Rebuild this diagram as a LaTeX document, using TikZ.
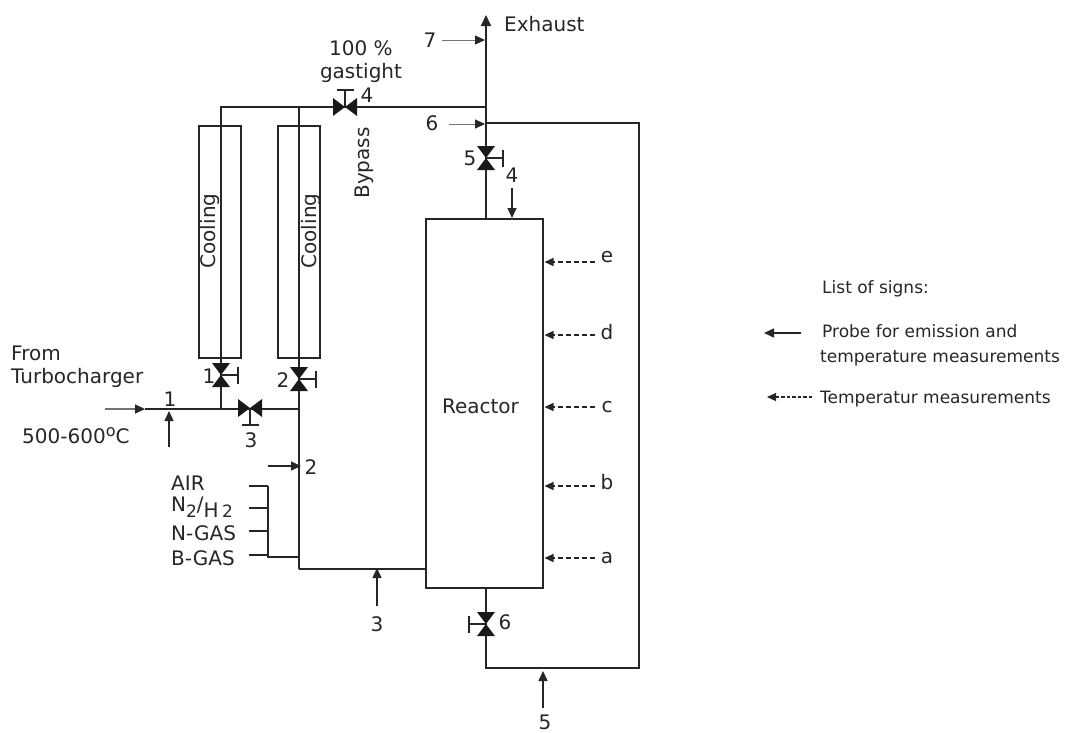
\documentclass[tikz,border=0pt]{standalone}
\usepackage{fontspec}
\setmainfont{DejaVu Sans}
\usetikzlibrary{arrows.meta,positioning,calc}

\begin{document}
\begin{tikzpicture}[
  x=1pt,y=-1pt, >={Triangle[length=10pt,width=9pt]}, font=\fontsize{20}{22}\selectfont,
  txt/.style={inner sep=0pt,text=black!85},
  note/.style={txt,font=\fontsize{17}{19}\selectfont,anchor=west},
  pipe/.style={line width=1.6pt,black!85},
  box/.style={draw=black!85,line width=1.6pt},
  probe/.style={->,line width=1.4pt,black!85},
  thinprobe/.style={-{Triangle[length=10pt,width=9pt,color=black!85]},line width=1pt,black!55},
  tprobe/.style={-{Triangle[length=9pt,width=8pt]},line width=1.1pt,dash pattern=on 5pt off 3pt,black!85},
  valve/.pic={
    \fill[black!90] (-12,-9) -- (0,0) -- (-12,9) -- cycle;
    \fill[black!90] (12,-9) -- (0,0) -- (12,9) -- cycle;
    \draw[pipe] (0,0) -- (0,-17) (-8.5,-17) -- (8.5,-17);
  }
]
\useasboundingbox (0,0) rectangle (1066,732);
% reactor and coolers
\node[box,minimum width=117pt,minimum height=369pt,inner sep=0pt] (reactor) at (484.5,403.5) {};
\node[txt] (reactortxt) at (480.5,406) {Reactor};
\node[box,minimum width=42pt,minimum height=232pt,inner sep=0pt] (coolA) at (220,242) {};
\node[box,minimum width=42pt,minimum height=232pt,inner sep=0pt] (coolB) at (299,242) {};
\node[txt,rotate=90] (coolAtxt) at (210,231) {Cooling};
\node[txt,rotate=90] (coolBtxt) at (311,231) {Cooling};
% junctions on the pipes
\coordinate (top) at (486,15);
\coordinate (byR) at (486,107);
\coordinate (byM) at (299,107);
\coordinate (byL) at (221,107);
\coordinate (retT) at (486,123);
\coordinate (retTR) at (639,123);
\coordinate (retBR) at (639,668);
\coordinate (retB) at (486,668);
\coordinate (reacT) at (486,219);
\coordinate (reacB) at (486,588);
\coordinate (inL) at (145,409);
\coordinate (inA) at (221,409);
\coordinate (inB) at (299,409);
\coordinate (feed) at (299,569);
\coordinate (reacF) at (426,569);
\coordinate (busJ) at (299,557);
\coordinate (bus0) at (268,557);
\coordinate (bus1) at (268,486);
% valves
\coordinate (v1) at (221,375);
\coordinate (v2) at (299,379);
\coordinate (v3) at (250,408);
\coordinate (v4) at (345,107);
\coordinate (v5) at (486,158);
\coordinate (v6) at (486,624);
% pipes
\draw[pipe,line width=2pt,-{Triangle[length=11pt,width=10pt]}] (reacT) -- (top);
\draw[pipe] (byL |- inA) -- (byL) -- (byR);
\draw[pipe] (feed) -- (byM);
\draw[pipe] (feed) -- (reacF);
\draw[pipe] (inL) -- (inB);
\draw[pipe] (retT) -- (retTR) -- (retBR) -- (retB) -- (reacB);
\draw[pipe] (bus1) -- (bus0) -- (busJ);
\pic at (v1) [rotate=-90] {valve};
\pic at (v2) [rotate=-90] {valve};
\pic at (v3) [rotate=180] {valve};
\pic at (v4) {valve};
\pic at (v5) [rotate=-90] {valve};
\pic at (v6) [rotate=90] {valve};
% gas inlets
\foreach \name/\y/\ly/\label in {air/486/483/AIR,ntwo/508/507/{N\raisebox{-6pt}{\fontsize{17}{17}\selectfont 2}/\raisebox{-6pt}{H\,\fontsize{17}{17}\selectfont 2}},ngas/531/533/N-GAS,bgas/555/558/B-GAS}{
  \node[txt,anchor=west] (\name) at (171,\ly) {\label};
  \coordinate (\name s) at (249,\y);
  \draw[pipe] (\name s) -- (bus1 |- \name s);
}
% probes with numbers
\coordinate (p1a) at (105,409);
\coordinate (p1b) at (169,447);
\coordinate (p1c) at (169,411);
\coordinate (p2a) at (268,466);
\coordinate (p2b) at (301,466);
\coordinate (p3a) at (377,606);
\coordinate (p3b) at (377,568);
\coordinate (p4a) at (512,188);
\coordinate (p4b) at (512,218);
\coordinate (p5a) at (543,708);
\coordinate (p5b) at (543,671);
\coordinate (p6a) at (449,124);
\coordinate (p6b) at (485,124);
\coordinate (p7a) at (442,40);
\coordinate (p7b) at (485,40);
\draw[thinprobe,line width=1.2pt] (p1a) -- (inL);
\draw[probe] (p1b) -- (p1c);
\draw[probe] (p2a) -- (p2b);
\draw[probe] (p3a) -- (p3b);
\draw[probe] (p4a) -- (p4b);
\draw[probe] (p5a) -- (p5b);
\draw[thinprobe] (p6a) -- (p6b);
\draw[thinprobe] (p7a) -- (p7b);
% temperature points
\foreach \name/\y/\ly in {a/558/558,b/486/482,c/407/407,d/335/332,e/262/257}{
  \coordinate (t\name a) at (595,\y);
  \coordinate (t\name b) at (544.5,\y);
  \draw[tprobe] (t\name a) -- (t\name b);
  \node[txt] (t\name) at (607,\ly) {\name};
}
% labels
\node[txt,anchor=west] (exhaust) at (504,24) {Exhaust};
\node[txt] (pct) at (361,48) {100 \%};
\node[txt] (tight) at (361,73) {gastight};
\node[txt,rotate=90] (bypass) at (364,163) {Bypass};
\node[txt,anchor=west] (from) at (11,353) {From};
\node[txt,anchor=west] (turbo) at (11,378) {Turbocharger};
\node[txt,anchor=west] (temp) at (22,436) {500-600\raisebox{7pt}{\fontsize{16}{16}\selectfont o}C};
\node[txt] (n1) at (170,399) {1};
\node[txt] (nv1) at (209,376) {1};
\node[txt] (nv2) at (283,380) {2};
\node[txt] (nv3) at (251,440) {3};
\node[txt] (nv4) at (367,95) {4};
\node[txt] (nv5) at (470,158) {5};
\node[txt] (nv6) at (505,622) {6};
\node[txt] (n2) at (311,467) {2};
\node[txt] (n3) at (377,624) {3};
\node[txt] (n4) at (512,175) {4};
\node[txt] (n5) at (545,722) {5};
\node[txt] (n6) at (432,123) {6};
\node[txt] (n7) at (430,40) {7};
% list of signs
\node[note] (signs) at (822,289) {List of signs:};
\node[note] (probe) at (822,331) {Probe for emission and};
\node[note] (probeb) at (820,358) {temperature measurements};
\node[note] (tmeas) at (820,399) {Temperatur measurements};
\coordinate (l1a) at (801,333);
\coordinate (l1b) at (764,333);
\coordinate (l2a) at (812,397);
\coordinate (l2b) at (767,397);
\draw[probe] (l1a) -- (l1b);
\draw[tprobe,dash pattern=on 3.5pt off 2pt] (l2a) -- (l2b);
\end{tikzpicture}
\end{document}
